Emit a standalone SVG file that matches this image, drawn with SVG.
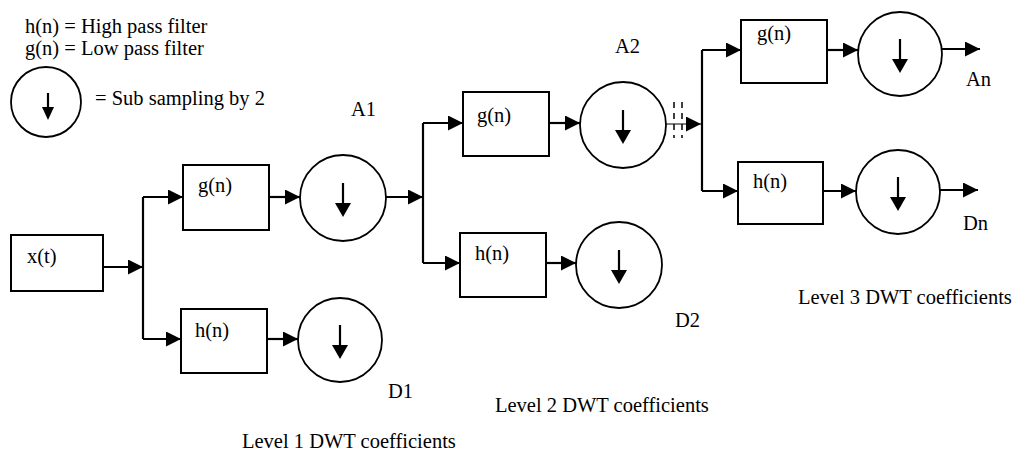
<svg xmlns="http://www.w3.org/2000/svg" width="1027" height="453" viewBox="0 0 1027 453" font-family="'Liberation Serif', 'DejaVu Serif', 'Times New Roman', Times, serif">
<style>
text{font-family:'Liberation Serif','DejaVu Serif','Times New Roman',Times,serif;font-size:20.5px;fill:#000}
.box{fill:#fff;stroke:#000;stroke-width:2}
.circ{fill:#fff;stroke:#000;stroke-width:1.8}
.wire{fill:none;stroke:#000;stroke-width:2.2}
.thin{fill:none;stroke:#000;stroke-width:1.2}
.dash{fill:none;stroke:#000;stroke-width:1.5;stroke-dasharray:6 5}
.down{fill:none;stroke:#000;stroke-width:2.2}
</style>
<defs>
<marker id="ah" markerUnits="userSpaceOnUse" markerWidth="16" markerHeight="16" refX="15" refY="7.5" orient="auto">
<path d="M0,0 L15,7.5 L0,15 z" fill="#000"/>
</marker>
<g id="dn">
<line x1="0" y1="-15" x2="0" y2="6" class="down"/>
<path d="M-8,5 L8,5 L0,19 z" fill="#000"/>
</g>
</defs>
<rect width="1027" height="453" fill="#fff"/>

<g id="legend">
<text x="25" y="33">h(n) = High pass filter</text>
<text x="25" y="55">g(n) = Low pass filter</text>
<circle cx="46" cy="102" r="35" class="circ"/>
<line x1="48" y1="93" x2="48" y2="108" class="down"/>
<path d="M42,107 L54,107 L48,120 z" fill="#000"/>
<text x="95" y="105">= Sub sampling by 2</text>
</g>

<g id="connectors">
<line x1="103" y1="267" x2="143" y2="267" class="wire" marker-end="url(#ah)"/>
<line x1="143" y1="197" x2="143" y2="339" class="wire"/>
<line x1="143" y1="197" x2="183" y2="197" class="wire" marker-end="url(#ah)"/>
<line x1="143" y1="339" x2="181" y2="339" class="wire" marker-end="url(#ah)"/>
<line x1="269" y1="197" x2="300" y2="197" class="wire" marker-end="url(#ah)"/>
<line x1="267" y1="339" x2="298" y2="339" class="wire" marker-end="url(#ah)"/>
<line x1="386" y1="197" x2="423" y2="197" class="wire" marker-end="url(#ah)"/>
<line x1="423" y1="123" x2="423" y2="263" class="wire"/>
<line x1="423" y1="123" x2="463" y2="123" class="wire" marker-end="url(#ah)"/>
<line x1="423" y1="263" x2="460" y2="263" class="wire" marker-end="url(#ah)"/>
<line x1="549" y1="123" x2="580" y2="123" class="wire" marker-end="url(#ah)"/>
<line x1="546" y1="263" x2="576" y2="263" class="wire" marker-end="url(#ah)"/>
<line x1="666" y1="124" x2="701" y2="124" class="thin" marker-end="url(#ah)"/>
<line x1="674" y1="102" x2="674" y2="138" class="dash"/>
<line x1="682" y1="102" x2="682" y2="138" class="dash"/>
<line x1="702" y1="50" x2="702" y2="191" class="wire"/>
<line x1="702" y1="50" x2="741" y2="50" class="wire" marker-end="url(#ah)"/>
<line x1="702" y1="191" x2="738" y2="191" class="wire" marker-end="url(#ah)"/>
<line x1="827" y1="50" x2="858" y2="50" class="wire" marker-end="url(#ah)"/>
<line x1="823" y1="191" x2="856" y2="191" class="wire" marker-end="url(#ah)"/>
<line x1="942" y1="49" x2="980" y2="49" class="wire" marker-end="url(#ah)"/>
<line x1="940" y1="190" x2="978" y2="190" class="wire" marker-end="url(#ah)"/>
</g>

<g id="xt"><rect x="11" y="235" width="92" height="56" class="box"/><text x="27" y="263">x(t)</text></g>
<g id="g1"><rect x="183" y="165" width="86" height="65" class="box"/><text x="198" y="192">g(n)</text></g>
<g id="h1"><rect x="181" y="309" width="86" height="64" class="box"/><text x="195" y="337">h(n)</text></g>
<g id="ds_a1"><circle cx="343" cy="198" r="43" class="circ"/><use href="#dn" x="343" y="198"/></g>
<g id="ds_d1"><circle cx="340" cy="340" r="42" class="circ"/><use href="#dn" x="340" y="340"/></g>
<g id="g2"><rect x="463" y="92" width="86" height="64" class="box"/><text x="477" y="122">g(n)</text></g>
<g id="h2"><rect x="460" y="233" width="86" height="64" class="box"/><text x="475" y="260">h(n)</text></g>
<g id="ds_a2"><circle cx="623" cy="125" r="43" class="circ"/><use href="#dn" x="623" y="125"/></g>
<g id="ds_d2"><circle cx="619" cy="265" r="43" class="circ"/><use href="#dn" x="619" y="265"/></g>
<g id="g3"><rect x="741" y="20" width="86" height="63" class="box"/><text x="757" y="40">g(n)</text></g>
<g id="h3"><rect x="738" y="162" width="85" height="62" class="box"/><text x="753" y="188">h(n)</text></g>
<g id="ds_an"><circle cx="900" cy="54" r="42" class="circ"/><use href="#dn" x="900" y="54"/></g>
<g id="ds_dn"><circle cx="898" cy="192" r="42" class="circ"/><use href="#dn" x="898" y="192"/></g>

<g id="labels">
<text x="351" y="116">A1</text>
<text x="388" y="398">D1</text>
<text x="615" y="53">A2</text>
<text x="675" y="327">D2</text>
<text x="966" y="86">An</text>
<text x="963" y="230">Dn</text>
<text x="242" y="448">Level 1 DWT coefficients</text>
<text x="495" y="412">Level 2 DWT coefficients</text>
<text x="798" y="304">Level 3 DWT coefficients</text>
</g>
</svg>
